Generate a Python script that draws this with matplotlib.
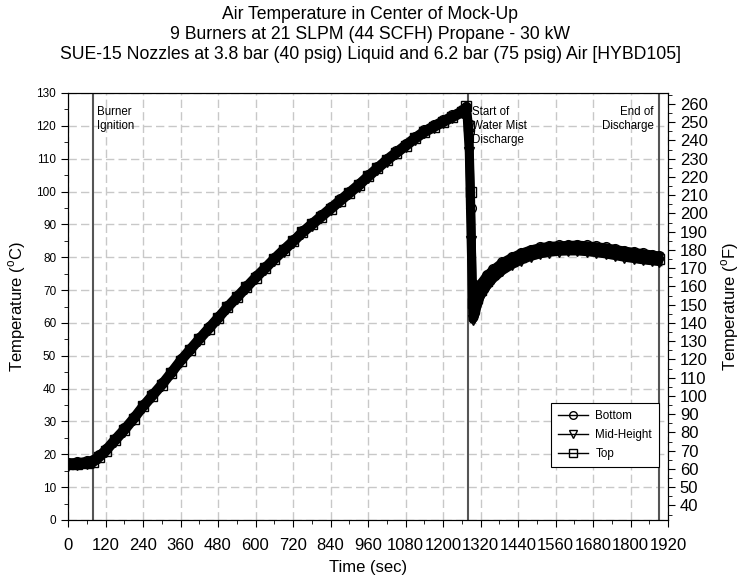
import numpy as np
import matplotlib.pyplot as plt
from matplotlib.ticker import MultipleLocator

plt.rcParams['font.family'] = ['Liberation Sans', 'DejaVu Sans']

# time (sec) and temperatures (deg C)
time_s = [0, 30, 60, 80, 100, 120, 150, 180, 210, 240, 270, 300, 330, 360, 390,
          420, 450, 480, 510, 540, 570, 600, 630, 660, 690, 720, 750, 780, 810,
          840, 870, 900, 930, 960, 990, 1020, 1050, 1080, 1110, 1140, 1170,
          1200, 1230, 1260, 1275, 1283, 1289, 1295, 1300, 1310, 1320, 1340,
          1360, 1390, 1420, 1450, 1480, 1510, 1540, 1570, 1600, 1630, 1660,
          1690, 1720, 1750, 1780, 1810, 1840, 1870, 1890]

bottom = [17.5, 17.6, 17.9, 18.3, 19.8, 21.5, 24.8, 27.9, 31.3, 35.0, 38.3,
          41.6, 45.2, 48.9, 52.2, 55.5, 58.7, 61.9, 65.2, 68.2, 71.2, 74.2,
          77.0, 79.9, 82.6, 85.2, 88.0, 90.4, 92.8, 95.2, 97.6, 100.0, 102.4,
          105.0, 107.5, 110.0, 112.2, 114.4, 116.6, 118.6, 120.2, 121.7, 123.2,
          124.7, 125.6, 118.0, 95.0, 72.0, 68.0, 70.0, 72.0, 74.5, 76.3, 78.5,
          80.0, 81.3, 82.3, 83.0, 83.4, 83.6, 83.7, 83.8, 83.6, 83.3, 83.0,
          82.5, 82.0, 81.6, 81.2, 80.8, 80.5]

mid_height = [16.5, 16.6, 16.9, 17.3, 18.8, 20.6, 23.8, 26.9, 30.4, 34.1, 37.4,
              40.7, 44.3, 48.0, 51.3, 54.6, 57.8, 61.0, 64.3, 67.3, 70.3, 73.3,
              76.1, 79.0, 81.7, 84.3, 87.1, 89.5, 91.9, 94.3, 96.7, 99.1, 101.5,
              104.1, 106.6, 109.1, 111.3, 113.5, 115.7, 117.7, 119.3, 120.8,
              122.3, 123.8, 124.8, 112.0, 85.0, 61.0, 61.5, 65.0, 68.0, 71.0,
              73.3, 75.8, 77.6, 79.0, 80.1, 80.9, 81.4, 81.7, 81.8, 81.8, 81.6,
              81.3, 80.9, 80.4, 79.9, 79.5, 79.1, 78.8, 78.6]

top = [17.0, 17.1, 17.4, 17.8, 19.3, 21.0, 24.3, 27.4, 30.9, 34.6, 37.9, 41.2,
       44.8, 48.5, 51.8, 55.1, 58.3, 61.5, 64.8, 67.8, 70.8, 73.8, 76.6, 79.5,
       82.2, 84.8, 87.6, 90.0, 92.4, 94.8, 97.2, 99.6, 102.0, 104.6, 107.1,
       109.6, 111.8, 114.0, 116.2, 118.2, 119.8, 121.3, 122.8, 124.3, 126.0,
       120.0, 100.0, 66.0, 64.5, 67.5, 70.0, 72.8, 74.8, 77.2, 78.8, 80.2,
       81.2, 82.0, 82.4, 82.7, 82.8, 82.8, 82.6, 82.3, 81.9, 81.5, 81.0, 80.6,
       80.2, 79.9, 79.6]

series = [('Bottom', bottom, 'o'), ('Mid-Height', mid_height, 'v'), ('Top', top, 's')]

events = [80, 1280, 1890]

fig = plt.figure(figsize=(7.41, 5.84), dpi=100)
ax = fig.add_axes([68 / 741, 1 - 520 / 584, 600 / 741, 427 / 584])

for name, vals, mk in series:
    ax.plot(time_s, vals, color='black', lw=6, marker=mk, ms=7,
            mfc='none', mec='black', mew=1, label=name, zorder=3)

for t in events:
    ax.axvline(t, color='#555555', lw=1.5, zorder=2)

ax.text(92, 126, 'Burner\nIgnition', fontsize=8.3, va='top', ha='left', linespacing=1.2)
ax.text(1293, 126, 'Start of\nWater Mist\nDischarge', fontsize=8.3, va='top', ha='left',
        linespacing=1.2)
ax.text(1875, 126, 'End of\nDischarge', fontsize=8.3, va='top', ha='right', linespacing=1.2)

ax.set_xlim(0, 1920)
ax.set_ylim(0, 130)
ax.xaxis.set_major_locator(MultipleLocator(120))
ax.xaxis.set_minor_locator(MultipleLocator(60))
ax.yaxis.set_major_locator(MultipleLocator(10))
ax.yaxis.set_minor_locator(MultipleLocator(5))
ax.tick_params(axis='x', which='major', labelsize=12, length=5, direction='out', pad=8)
ax.tick_params(axis='x', which='minor', length=3, direction='out')
ax.tick_params(axis='y', which='major', labelsize=8.5, length=5, direction='out')
ax.tick_params(axis='y', which='minor', length=3, direction='out')
ax.grid(True, which='major', color='#c8c8c8', ls=(0, (6, 3)), lw=1)
ax.set_axisbelow(True)

ax.set_xlabel('Time (sec)', fontsize=12, labelpad=5)
ax.set_ylabel('Temperature ($^\\mathregular{o}$C)', fontsize=12, labelpad=6)

ax2 = ax.twinx()
ax2.set_ylim(0 * 1.8 + 32, 130 * 1.8 + 32)
ax2.set_yticks(range(40, 261, 10))
ax2.yaxis.set_minor_locator(MultipleLocator(5))
ax2.tick_params(axis='y', which='major', labelsize=12, length=5, direction='out')
ax2.tick_params(axis='y', which='minor', length=3, direction='out')
ax2.set_ylabel('Temperature ($^\\mathregular{o}$F)', fontsize=12, labelpad=8)

leg = ax.legend(loc='upper left', bbox_to_anchor=(0.805, 0.274), borderaxespad=0,
                fontsize=8.4, fancybox=False, edgecolor='black', framealpha=1,
                handlelength=2.6, labelspacing=0.6, borderpad=0.6, handletextpad=0.6)
leg.get_frame().set_linewidth(0.8)
for ln in leg.get_lines():
    ln.set_linewidth(1)
    ln.set_markersize(5.5)

fig.suptitle('Air Temperature in Center of Mock-Up\n'
             '9 Burners at 21 SLPM (44 SCFH) Propane - 30 kW\n'
             'SUE-15 Nozzles at 3.8 bar (40 psig) Liquid and 6.2 bar (75 psig) Air [HYBD105]',
             fontsize=12.7, y=0.99, linespacing=1.25)

fig.savefig('out.png', dpi=100)
